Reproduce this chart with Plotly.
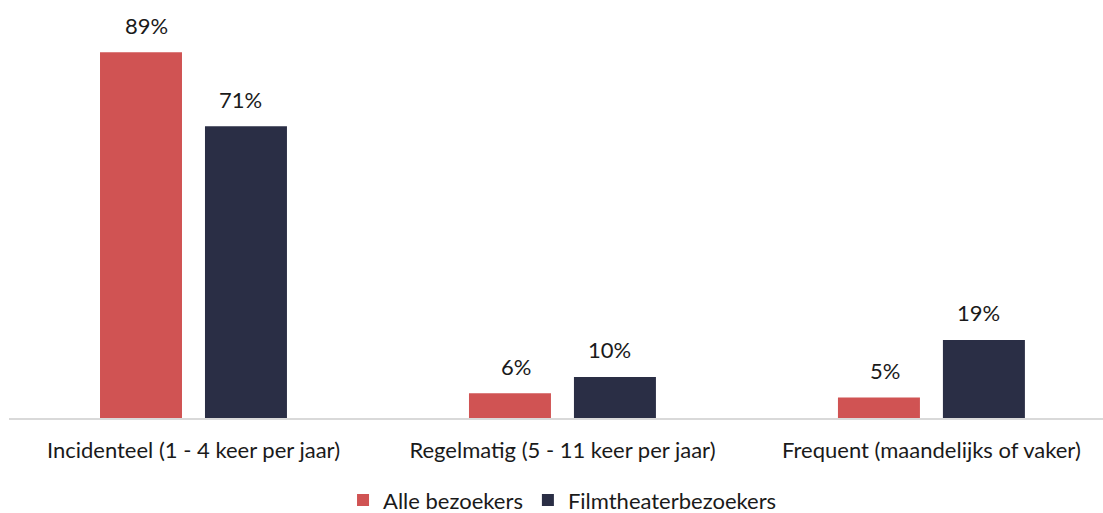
import plotly.graph_objects as go

categories = [
    "Incidenteel (1 - 4 keer per jaar)",
    "Regelmatig (5 - 11 keer per jaar)",
    "Frequent (maandelijks of vaker)",
]
series_names = ["Alle bezoekers", "Filmtheaterbezoekers"]
alle_bezoekers = [89, 6, 5]
filmtheaterbezoekers = [71, 10, 19]
colors = ["#D05353", "#2A2E45"]

FONT = "Lato, 'Open Sans', sans-serif"
FONT_SIZE = 22
TEXT_COLOR = "#1a1a1a"

fig = go.Figure()
for i, (name, values, color) in enumerate(zip(series_names, [alle_bezoekers, filmtheaterbezoekers], colors)):
    fig.add_trace(go.Bar(
        name=name,
        x=categories,
        y=values,
        offsetgroup=str(i),
        marker=dict(color=color, line=dict(width=0)),
        cliponaxis=False,
    ))

# value labels above each bar, placed from the same values
bar_offsets = [-0.1267, 0.1267]
for values, dx in zip([alle_bezoekers, filmtheaterbezoekers], bar_offsets):
    for ci, v in enumerate(values):
        fig.add_annotation(
            x=ci + dx,
            y=v,
            text=f"{v}%",
            showarrow=False,
            yanchor="middle",
            yshift=27,
            font=dict(family=FONT, size=FONT_SIZE, color=TEXT_COLOR),
        )

fig.update_layout(
    width=1103,
    height=513,
    margin=dict(l=9, r=0, t=7, b=95),
    paper_bgcolor="white",
    plot_bgcolor="white",
    barmode="group",
    bargap=0.431,
    bargroupgap=0.219,
    font=dict(family=FONT, size=FONT_SIZE, color=TEXT_COLOR),
    showlegend=True,
    legend=dict(
        orientation="h",
        xref="container",
        yref="container",
        x=0.51,
        xanchor="center",
        y=0.025,
        yanchor="middle",
        font=dict(family=FONT, size=FONT_SIZE, color=TEXT_COLOR),
        traceorder="normal",
    ),
    xaxis=dict(
        range=[-0.5, 2.465],
        showline=True,
        linecolor="#D9D9D9",
        linewidth=1.5,
        ticks="outside",
        ticklen=12,
        tickcolor="rgba(0,0,0,0)",
        showgrid=False,
        tickfont=dict(family=FONT, size=FONT_SIZE, color=TEXT_COLOR),
    ),
    yaxis=dict(
        range=[0, 100],
        visible=False,
        showgrid=False,
        zeroline=False,
    ),
)

fig.write_html("out.html")
